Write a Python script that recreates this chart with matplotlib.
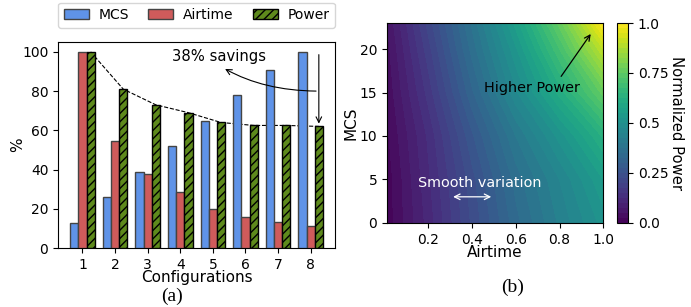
import numpy as np
import matplotlib.pyplot as plt

configs = [1, 2, 3, 4, 5, 6, 7, 8]
mcs = [13, 26, 39, 52, 65, 78, 91, 100]
airtime = [100, 54.5, 37.5, 28.5, 20, 16, 13.5, 11]
power = [100, 81, 73, 69, 64, 62.5, 62.5, 62]

# heatmap samples
air_grid = [0.01, 0.2, 0.4, 0.6, 0.8, 1.0]
mcs_grid = [0, 5, 10, 15, 20, 23]
power_grid = [
    [0.01, 0.11, 0.23, 0.34, 0.43, 0.51],   # mcs 0
    [0.01, 0.12, 0.24, 0.36, 0.45, 0.55],   # mcs 5
    [0.02, 0.13, 0.27, 0.40, 0.51, 0.63],   # mcs 10
    [0.03, 0.16, 0.32, 0.47, 0.61, 0.76],   # mcs 15
    [0.04, 0.19, 0.36, 0.52, 0.70, 0.90],   # mcs 20
    [0.05, 0.21, 0.38, 0.56, 0.76, 1.00],   # mcs 23
]

fig = plt.figure(figsize=(6.91, 3.07), dpi=100)

# (a) bars
ax = fig.add_axes([0.084, 0.192, 0.401, 0.671])
x = np.array(configs)
w = 0.25
ax.bar(x - w, mcs, w, color='#5f93e8', edgecolor='#444444', lw=1, label='MCS', zorder=3)
ax.bar(x, airtime, w, color='#cf5b5b', edgecolor='#444444', lw=1, label='Airtime', zorder=3)
ax.bar(x + w, power, w, color='#5e8a1c', edgecolor='k', lw=1, hatch='////', label='Power', zorder=3)
ax.plot(x + w, power, 'k--', lw=0.8, zorder=2)
ax.annotate('', xy=(8.25, 62), xytext=(8.25, 100),
            arrowprops=dict(arrowstyle='->', color='k', lw=0.8))
ax.annotate('', xy=(5.3, 92), xytext=(8.25, 80),
            arrowprops=dict(arrowstyle='->', color='k', lw=0.8,
                            connectionstyle='angle3,angleA=0,angleB=-30'))
ax.text(5.2, 97.4, '38% savings', fontsize=10.6, ha='center', va='center')
ax.set_xlim(0.25, 8.75)
ax.set_ylim(0, 105)
ax.set_xticks(configs)
ax.set_yticks([0, 20, 40, 60, 80, 100])
ax.tick_params(labelsize=10)
ax.set_xlabel('Configurations', fontsize=11, labelpad=-1)
ax.set_ylabel('%', fontsize=11, labelpad=-2)
ax.legend(loc='lower center', bbox_to_anchor=(0.5, 1.07), ncol=3, fontsize=10,
          handlelength=1.8, handletextpad=0.7, columnspacing=1.4, borderaxespad=0)

# (b) heatmap
ax2 = fig.add_axes([0.560, 0.274, 0.313, 0.651])
cs = ax2.contourf(air_grid, mcs_grid, power_grid, levels=np.linspace(0, 1, 41),
                  cmap='viridis', vmin=0, vmax=1)
ax2.set_xlim(0.01, 1.0)
ax2.set_ylim(0, 23)
ax2.set_xticks([0.2, 0.4, 0.6, 0.8, 1.0])
ax2.set_yticks([0, 5, 10, 15, 20])
ax2.tick_params(labelsize=10)
ax2.set_xlabel('Airtime', fontsize=11, labelpad=-1)
ax2.set_ylabel('MCS', fontsize=11, labelpad=1)
ax2.annotate('', xy=(0.95, 22), xytext=(0.80, 16.6),
             arrowprops=dict(arrowstyle='->', color='k', lw=0.9))
ax2.text(0.675, 15.5, 'Higher Power', fontsize=10.4, ha='center', va='center')
ax2.text(0.435, 4.6, 'Smooth variation', fontsize=10.4, ha='center', va='center', color='white')
ax2.annotate('', xy=(0.30, 3), xytext=(0.50, 3),
             arrowprops=dict(arrowstyle='<->', color='white', lw=0.9))

cax = fig.add_axes([0.893, 0.274, 0.016, 0.651])
cb = fig.colorbar(cs, cax=cax, ticks=[0, 0.25, 0.5, 0.75, 1.0])
cb.ax.set_yticklabels(['0.0', '0.25', '0.5', '0.75', '1.0'])
cb.ax.tick_params(labelsize=10)
cb.set_label('Normalized Power', rotation=270, fontsize=10.6, labelpad=11)

fig.text(0.249, 0.035, '(a)', fontsize=14, family='Liberation Serif', ha='center', va='center')
fig.text(0.742, 0.065, '(b)', fontsize=14, family='Liberation Serif', ha='center', va='center')

fig.savefig('out.png', dpi=100)
